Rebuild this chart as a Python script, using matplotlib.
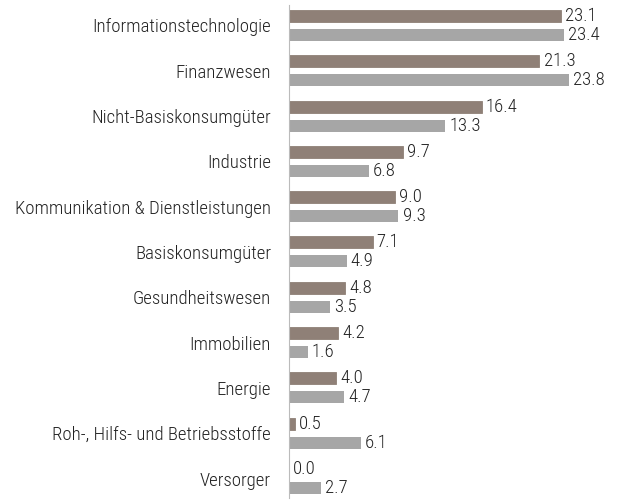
import matplotlib
matplotlib.use('Agg')
import matplotlib.pyplot as plt
import numpy as np

# sectors and values
sectors = ['Informationstechnologie', 'Finanzwesen', 'Nicht-Basiskonsumgüter', 'Industrie',
           'Kommunikation & Dienstleistungen', 'Basiskonsumgüter', 'Gesundheitswesen',
           'Immobilien', 'Energie', 'Roh-, Hilfs- und Betriebsstoffe', 'Versorger']
series1 = [23.1, 21.3, 16.4, 9.7, 9.0, 7.1, 4.8, 4.2, 4.0, 0.5, 0.0]
series2 = [23.4, 23.8, 13.3, 6.8, 9.3, 4.9, 3.5, 1.6, 4.7, 6.1, 2.7]

plt.rcParams['font.family'] = ['Roboto Condensed', 'DejaVu Sans']
plt.rcParams['font.weight'] = 'light'

fig = plt.figure(figsize=(6.23, 5.01), dpi=100)
ax = fig.add_axes([0.464, 0.006, 0.50, 0.984])

y = np.arange(len(sectors))
h = 0.265
off = 0.21
ax.barh(y - off, series1, height=h, color='#8F8077', edgecolor='#8F8077', linewidth=0.6)
ax.barh(y + off, series2, height=h, color='#A6A6A6')

for i in range(len(sectors)):
    ax.text(series1[i] + 0.35, y[i] - off, '%.1f' % series1[i], va='center', ha='left', fontsize=13.5, color='#222222')
    ax.text(series2[i] + 0.35, y[i] + off, '%.1f' % series2[i], va='center', ha='left', fontsize=13.5, color='#222222')

ax.set_yticks(y)
ax.set_yticklabels(sectors, fontsize=13.5, color='#222222')
ax.tick_params(axis='y', length=0, pad=13)
ax.set_xticks([])
ax.set_xlim(0, 26.5)
ax.set_ylim(10.43, -0.45)
for s in ['top', 'right', 'bottom']:
    ax.spines[s].set_visible(False)
ax.spines['left'].set_color('#BBBBBB')
ax.spines['left'].set_linewidth(0.8)

fig.savefig('out.png', dpi=100)
